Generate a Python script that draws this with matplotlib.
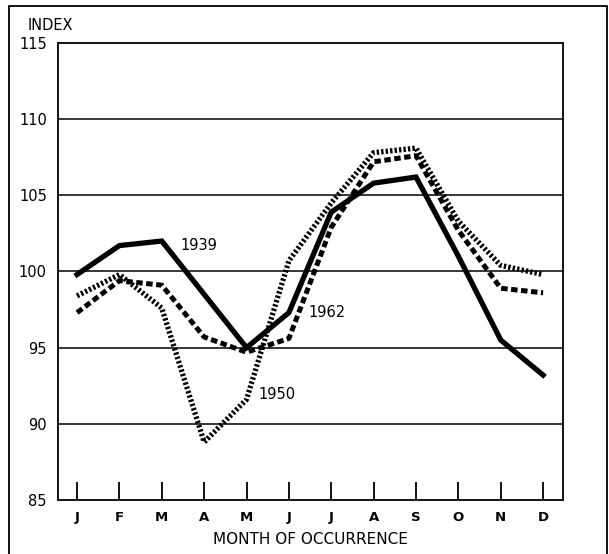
import matplotlib.pyplot as plt
from matplotlib.patches import Rectangle

# data
months = ["J", "F", "M", "A", "M", "J", "J", "A", "S", "O", "N", "D"]
index_1939 = [99.8, 101.7, 102.0, 98.5, 95.0, 97.3, 103.9, 105.8, 106.2, 101.0, 95.5, 93.2]
index_1950 = [98.4, 99.8, 97.6, 88.8, 91.6, 100.7, 104.5, 107.8, 108.1, 103.3, 100.4, 99.8]
index_1962 = [97.3, 99.4, 99.1, 95.7, 94.7, 95.6, 102.9, 107.2, 107.6, 102.7, 98.9, 98.6]
yticks = [85, 90, 95, 100, 105, 110, 115]

plt.rcParams['font.family'] = ['DejaVu Sans']

fig = plt.figure(figsize=(6.09, 5.54), dpi=100)
ax = fig.add_axes([0.0952, 0.0975, 0.8293, 0.8249])

x = list(range(len(months)))

# horizontal rules
for v in yticks[1:-1]:
    ax.axhline(v, color='black', lw=1.1, zorder=1)

ax.plot(x, index_1939, color='black', lw=3.8, solid_joinstyle='miter', zorder=3)
ax.plot(x, index_1962, color='black', lw=3.6, linestyle=(0, (1.3, 0.7)), zorder=3)
ax.plot(x, index_1950, color='black', lw=3.8, linestyle=(0, (0.45, 0.4)), zorder=3)

ax.set_xlim(-0.45, 11.47)
ax.set_ylim(85, 115)
ax.set_xticks(x)
ax.set_xticklabels(months, fontsize=9.5, fontweight='bold')
ax.set_yticks(yticks)
ax.set_yticklabels([str(v) for v in yticks], fontsize=10.5)
ax.tick_params(axis='x', direction='in', length=13, width=1.3, pad=8)
ax.tick_params(axis='y', length=0, pad=8)
for s in ax.spines.values():
    s.set_linewidth(1.3)

ax.set_xlabel("MONTH OF OCCURRENCE", fontsize=11, labelpad=6)

# series labels
ax.text(2.45, 101.7, "1939", fontsize=10.5, va='center', ha='left')
ax.text(4.27, 91.9, "1950", fontsize=10.5, va='center', ha='left')
ax.text(5.45, 97.3, "1962", fontsize=10.5, va='center', ha='left')

fig.text(28 / 609, 1 - 26 / 554, "INDEX", fontsize=10.5, va='center', ha='left')

# outer frame
fig.patches.append(Rectangle((9 / 609, -0.02), 598 / 609, 1 - 6 / 554 + 0.02,
                             transform=fig.transFigure, fill=False,
                             edgecolor='black', lw=1.3))

fig.savefig("out.png", dpi=100)
